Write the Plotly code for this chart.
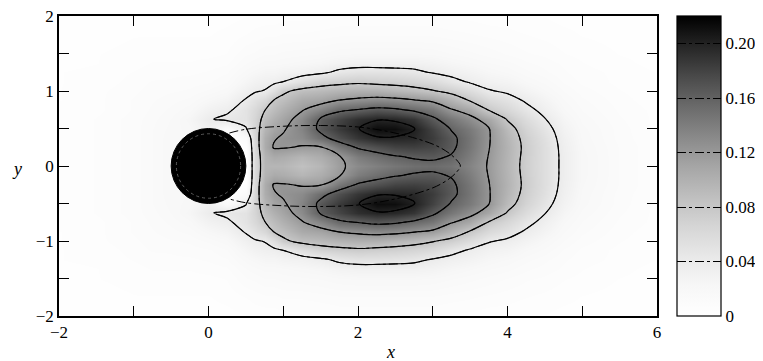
import numpy as np
import plotly.graph_objects as go

# grid (upper half, y >= 0; field is symmetric about y = 0)
x_grid = [-2, -1.5, -1, -0.75, -0.5, -0.25, 0, 0.25, 0.5, 0.625, 0.75, 0.875, 1.0,
          1.25, 1.5, 1.75, 2.0, 2.25, 2.5, 2.75, 3.0, 3.25, 3.5, 3.75, 4.0, 4.25,
          4.5, 4.75, 5.0, 5.5, 6.0]
y_upper = [0, 0.125, 0.25, 0.375, 0.5, 0.625, 0.75, 0.875, 1.0, 1.125, 1.25, 1.375,
           1.5, 1.75, 2.0]

# one profile (values along y_upper) per x_grid column
profiles = [
    [0.005, 0.005, 0.005, 0.005, 0.005, 0.005, 0.005, 0.004, 0.004, 0.004, 0.004, 0.003, 0.003, 0.003, 0.002],
    [0.007, 0.007, 0.007, 0.007, 0.007, 0.007, 0.006, 0.006, 0.006, 0.005, 0.005, 0.004, 0.004, 0.003, 0.003],
    [0.011, 0.011, 0.011, 0.011, 0.011, 0.011, 0.010, 0.010, 0.009, 0.008, 0.007, 0.006, 0.005, 0.004, 0.003],
    [0.015, 0.015, 0.015, 0.015, 0.015, 0.014, 0.013, 0.012, 0.011, 0.010, 0.008, 0.007, 0.006, 0.004, 0.003],
    [0.020, 0.020, 0.020, 0.020, 0.019, 0.018, 0.016, 0.014, 0.012, 0.010, 0.009, 0.007, 0.006, 0.004, 0.003],
    [0.020, 0.020, 0.020, 0.020, 0.022, 0.024, 0.020, 0.016, 0.013, 0.011, 0.009, 0.007, 0.006, 0.004, 0.003],
    [0.030, 0.030, 0.030, 0.030, 0.032, 0.038, 0.030, 0.022, 0.016, 0.012, 0.010, 0.008, 0.006, 0.004, 0.003],
    [0.000, 0.000, 0.000, 0.000, 0.015, 0.045, 0.036, 0.027, 0.020, 0.015, 0.012, 0.009, 0.007, 0.005, 0.003],
    [0.000, 0.000, 0.005, 0.015, 0.038, 0.050, 0.050, 0.042, 0.032, 0.025, 0.019, 0.015, 0.012, 0.007, 0.004],
    [0.060, 0.060, 0.062, 0.064, 0.066, 0.066, 0.062, 0.052, 0.038, 0.030, 0.022, 0.017, 0.013, 0.008, 0.005],
    [0.095, 0.097, 0.104, 0.103, 0.096, 0.088, 0.079, 0.062, 0.041, 0.033, 0.025, 0.019, 0.015, 0.009, 0.005],
    [0.095, 0.105, 0.122, 0.118, 0.110, 0.100, 0.090, 0.081, 0.055, 0.035, 0.025, 0.019, 0.015, 0.009, 0.005],
    [0.095, 0.103, 0.122, 0.123, 0.117, 0.110, 0.100, 0.088, 0.075, 0.040, 0.028, 0.020, 0.016, 0.010, 0.006],
    [0.086, 0.095, 0.118, 0.130, 0.135, 0.130, 0.118, 0.105, 0.088, 0.055, 0.030, 0.022, 0.017, 0.010, 0.006],
    [0.095, 0.103, 0.118, 0.152, 0.167, 0.163, 0.135, 0.110, 0.092, 0.068, 0.035, 0.024, 0.018, 0.011, 0.006],
    [0.115, 0.118, 0.145, 0.172, 0.185, 0.178, 0.155, 0.121, 0.097, 0.072, 0.045, 0.028, 0.020, 0.012, 0.007],
    [0.130, 0.140, 0.163, 0.188, 0.199, 0.192, 0.161, 0.126, 0.100, 0.075, 0.050, 0.030, 0.021, 0.012, 0.007],
    [0.138, 0.150, 0.172, 0.198, 0.213, 0.198, 0.168, 0.130, 0.100, 0.072, 0.050, 0.030, 0.021, 0.012, 0.007],
    [0.145, 0.158, 0.180, 0.198, 0.212, 0.196, 0.164, 0.128, 0.095, 0.070, 0.048, 0.030, 0.021, 0.012, 0.007],
    [0.150, 0.163, 0.182, 0.196, 0.201, 0.188, 0.155, 0.122, 0.090, 0.066, 0.045, 0.030, 0.021, 0.012, 0.007],
    [0.152, 0.165, 0.178, 0.184, 0.180, 0.165, 0.145, 0.115, 0.082, 0.060, 0.038, 0.028, 0.020, 0.012, 0.007],
    [0.148, 0.158, 0.165, 0.166, 0.158, 0.145, 0.122, 0.098, 0.072, 0.048, 0.032, 0.024, 0.018, 0.011, 0.006],
    [0.135, 0.140, 0.145, 0.146, 0.142, 0.128, 0.108, 0.078, 0.058, 0.037, 0.028, 0.021, 0.016, 0.010, 0.006],
    [0.118, 0.119, 0.121, 0.122, 0.121, 0.108, 0.078, 0.060, 0.042, 0.030, 0.023, 0.018, 0.014, 0.009, 0.005],
    [0.095, 0.096, 0.097, 0.095, 0.090, 0.078, 0.063, 0.050, 0.036, 0.027, 0.020, 0.016, 0.012, 0.008, 0.005],
    [0.072, 0.073, 0.074, 0.072, 0.067, 0.058, 0.047, 0.037, 0.028, 0.021, 0.016, 0.013, 0.010, 0.007, 0.004],
    [0.055, 0.055, 0.055, 0.053, 0.048, 0.041, 0.033, 0.027, 0.021, 0.017, 0.013, 0.011, 0.009, 0.006, 0.004],
    [0.035, 0.035, 0.034, 0.032, 0.029, 0.025, 0.021, 0.018, 0.015, 0.012, 0.010, 0.009, 0.007, 0.005, 0.003],
    [0.022, 0.022, 0.021, 0.020, 0.019, 0.017, 0.015, 0.013, 0.011, 0.009, 0.008, 0.007, 0.006, 0.004, 0.003],
    [0.012, 0.012, 0.012, 0.011, 0.011, 0.010, 0.009, 0.008, 0.007, 0.006, 0.006, 0.005, 0.004, 0.003, 0.002],
    [0.007, 0.007, 0.007, 0.007, 0.006, 0.006, 0.006, 0.005, 0.005, 0.004, 0.004, 0.003, 0.003, 0.002, 0.002],
]

contour_levels = [0.04, 0.08, 0.12, 0.16, 0.20]
cbar_ticks = [0, 0.04, 0.08, 0.12, 0.16, 0.20]
cbar_labels = ["0", "0.04", "0.08", "0.12", "0.16", "0.20"]
z_max = 0.22

# cylinder and separating streamline (upper half, mirrored)
cyl_center = (0.0, 0.0)
cyl_radius = 0.5
inner_radius = 0.43
sep_x = [0.28, 0.5, 1.0, 1.5, 2.0, 2.4, 2.8, 3.05, 3.22, 3.32, 3.37]
sep_y = [0.44, 0.49, 0.53, 0.54, 0.52, 0.46, 0.36, 0.27, 0.17, 0.08, 0.0]

# build full symmetric grid
zu = np.array(profiles).T          # rows = y_upper, cols = x_grid
z_full = np.vstack([zu[:0:-1], zu])
y_full = [-v for v in y_upper[:0:-1]] + y_upper

sx = sep_x + sep_x[-2::-1]
sy = sep_y + [-v for v in sep_y[-2::-1]]

serif = "Liberation Serif, Times New Roman, serif"
# grey map, a little lighter than linear in the mid-range
gray = []
for i in range(11):
    t = i / 10
    g = int(round(255 * (1 - t ** 1.5)))
    gray.append([t, f"rgb({g},{g},{g})"])
step = contour_levels[1] - contour_levels[0]

fig = go.Figure()
fig.add_trace(go.Contour(
    x=x_grid, y=y_full, z=z_full, zmin=0, zmax=z_max, zauto=False,
    colorscale=gray,
    contours=dict(start=contour_levels[0], end=contour_levels[-1], size=step,
                  coloring="heatmap", showlines=True),
    line=dict(color="black", width=1, dash="dashdot", smoothing=1.0),
    colorbar=dict(
        x=1.0334, xanchor="left", y=0.5, yanchor="middle",
        len=1.0, lenmode="fraction", thickness=44, thicknessmode="pixels",
        xpad=0, ypad=0, outlinewidth=1.2, outlinecolor="black",
        tickvals=cbar_ticks, ticktext=cbar_labels, ticks="",
        tickfont=dict(family=serif, size=17, color="black"),
        ticklabeloverflow="allow",
    ),
    hoverinfo="skip",
))
fig.add_trace(go.Contour(
    x=x_grid, y=y_full, z=z_full, showscale=False,
    contours=dict(start=contour_levels[0], end=contour_levels[-1], size=step,
                  coloring="none", showlines=True),
    line=dict(color="black", width=1.2, smoothing=1.0),
    hoverinfo="skip",
))
fig.add_trace(go.Scatter(
    x=sx, y=sy, mode="lines",
    line=dict(color="black", width=1, dash="dashdot", shape="spline"),
    showlegend=False, hoverinfo="skip",
))

cx, cy = cyl_center
fig.add_shape(type="circle", xref="x", yref="y",
              x0=cx - cyl_radius, x1=cx + cyl_radius,
              y0=cy - cyl_radius, y1=cy + cyl_radius,
              fillcolor="black", line=dict(color="black", width=1), layer="above")
fig.add_shape(type="circle", xref="x", yref="y",
              x0=cx - inner_radius, x1=cx + inner_radius,
              y0=cy - inner_radius, y1=cy + inner_radius,
              line=dict(color="#707070", width=0.8, dash="dot"), layer="above")

axis_common = dict(
    showgrid=False, zeroline=False, showline=True, linecolor="black", linewidth=1.5,
    mirror="ticks", ticks="inside", ticklen=10, tickwidth=1.3, tickcolor="black",
    tickfont=dict(family=serif, size=17, color="black"), automargin=False,
    ticklabeloverflow="allow",
)
fig.update_xaxes(range=[-2, 6], tickmode="array", tickvals=[-2, 0, 2, 4, 6],
                 minor=dict(tickvals=[-1, 1, 3, 5], ticks="inside", ticklen=10,
                            tickwidth=1.3, tickcolor="black"),
                 **axis_common)
fig.update_yaxes(range=[-2, 2], tickmode="array", tickvals=[-2, -1, 0, 1, 2],
                 minor=dict(tickvals=[-1.5, -0.5, 0.5, 1.5], ticks="inside", ticklen=10,
                            tickwidth=1.3, tickcolor="black"),
                 **axis_common)

fig.add_annotation(text="<i>x</i>", xref="paper", yref="paper", x=0.555, y=-0.12,
                   xanchor="center", yanchor="middle", showarrow=False,
                   font=dict(family=serif, size=18, color="black"))
fig.add_annotation(text="<i>y</i>", xref="paper", yref="paper", x=-0.07, y=0.49,
                   xanchor="center", yanchor="middle", showarrow=False,
                   font=dict(family=serif, size=18, color="black"))

# the page adds an 8 px body margin, so the figure is laid out 8 px up/left
fig.update_layout(
    width=755, height=353, autosize=False,
    margin=dict(l=51, r=106, t=8, b=45, pad=0),
    paper_bgcolor="white", plot_bgcolor="white",
    showlegend=False,
)

fig.write_html("out.html")
